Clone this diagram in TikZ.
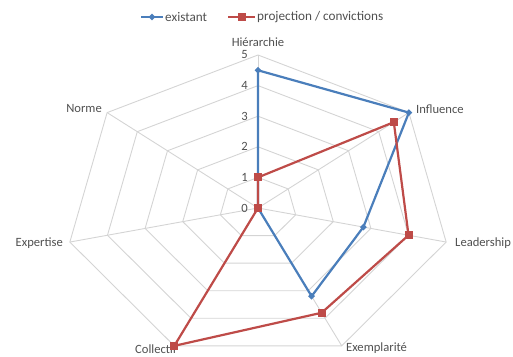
\documentclass[tikz,border=0pt]{standalone}
\usepackage{fontspec}
\setmainfont{Carlito}
\usetikzlibrary{shapes.geometric}
\definecolor{serblue}{HTML}{4A7EBB}
\definecolor{serred}{HTML}{BE4B48}
\definecolor{gridgray}{HTML}{D4D4D4}
\definecolor{txtgray}{HTML}{505050}
\tikzset{
  gridline/.style={draw=gridgray, line width=0.9pt},
  lab/.style={font=\fontsize{12.6}{14}\selectfont, text=txtgray, inner sep=0pt},
  leglab/.style={font=\fontsize{13.2}{15}\selectfont, text=txtgray, inner sep=0pt, anchor=west},
  ticklab/.style={font=\fontsize{12.6}{14}\selectfont, text=txtgray, inner sep=0pt, anchor=east},
  blueline/.style={draw=serblue, line width=2.2pt, line join=round},
  redline/.style={draw=serred, line width=2.2pt, line join=round},
  bluemark/.style={diamond, fill=serblue, inner sep=0pt, minimum width=7pt, minimum height=7pt},
  redmark/.style={rectangle, fill=serred, inner sep=0pt, minimum size=8pt},
}
\def\RX{38.6}
\def\RY{30.6}
\def\CX{258}
\def\CY{208}
\begin{document}
\begin{tikzpicture}[x=1pt,y=-1pt]
\useasboundingbox (0,0) rectangle (513,356);
\coordinate (C) at (\CX,\CY);
% grid rings
\foreach \r in {1,...,5}{
  \draw[gridline] ({\CX+\RX*\r*cos(90)},{\CY-\RY*\r*sin(90)})
    \foreach \k in {1,...,6}{ -- ({\CX+\RX*\r*cos(90-\k*360/7)},{\CY-\RY*\r*sin(90-\k*360/7)}) } -- cycle;
}
% spokes
\foreach \k in {0,...,6}{
  \coordinate (v\k) at ({\CX+\RX*5*cos(90-\k*360/7)},{\CY-\RY*5*sin(90-\k*360/7)});
  \draw[gridline] (C) -- (v\k);
}
% tick labels
\foreach \t in {0,...,5}{
  \node[ticklab] (t\t) at (248,{\CY-\RY*\t}) {\t};
}
% category labels
\node[lab] (Lhier) at (258,42) {Hiérarchie};
\node[lab, anchor=west] (Linf) at (416,109) {Influence};
\node[lab, anchor=west] (Llead) at (455,243) {Leadership};
\node[lab, anchor=west] (Lexe) at (346,348) {Exemplarité};
\node[lab, anchor=east] (Lcol) at (177,349) {Collectif};
\node[lab, anchor=east] (Lexp) at (63,243) {Expertise};
\node[lab, anchor=east] (Lnor) at (102,108) {Norme};
% data coordinates
\foreach \v [count=\i from 0] in {4.5,5,2.8,3.2,0,0,0}{
  \coordinate (b\i) at ({\CX+\RX*\v*cos(90-\i*360/7)},{\CY-\RY*\v*sin(90-\i*360/7)});
}
\foreach \v [count=\i from 0] in {1,4.5,4,3.8,5,0,0}{
  \coordinate (r\i) at ({\CX+\RX*\v*cos(90-\i*360/7)},{\CY-\RY*\v*sin(90-\i*360/7)});
}
% series
\draw[blueline] (b0) -- (b1) -- (b2) -- (b3) -- (b4) -- (b5) -- (b6) -- cycle;
\draw[redline] (r0) -- (r1) -- (r2) -- (r3) -- (r4) -- (r5) -- (r6) -- cycle;
\foreach \i in {0,...,6}{ \node[bluemark] (mb\i) at (b\i) {}; }
\foreach \i in {0,...,6}{ \node[redmark] (mr\i) at (r\i) {}; }
% legend
\coordinate (la1) at (141,17);
\coordinate (la2) at (163,17);
\draw[serblue, line width=2.2pt] (la1) -- (la2);
\node[bluemark] (lbm) at (152,17) {};
\node[leglab] (lbt) at (165,17) {existant};
\coordinate (lb1) at (228,17);
\coordinate (lb2) at (255,17);
\draw[serred, line width=2.2pt] (lb1) -- (lb2);
\node[redmark] (lrm) at (241.5,17) {};
\node[leglab] (lrt) at (257,17) {projection / convictions};
\end{tikzpicture}
\end{document}
